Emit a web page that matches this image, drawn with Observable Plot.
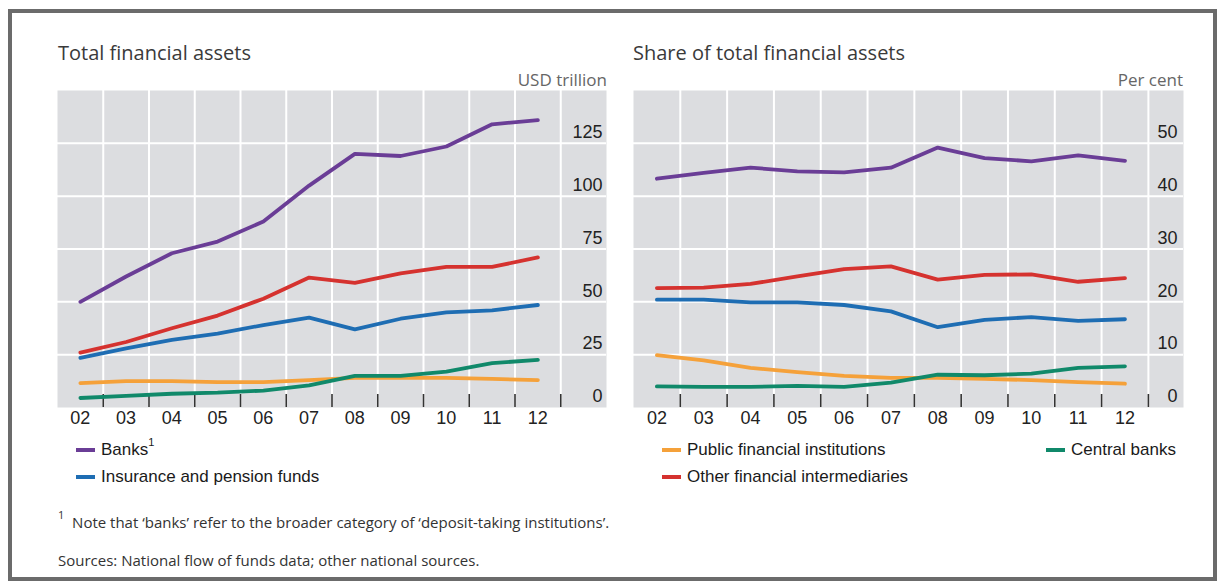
<!DOCTYPE html>
<html><head><meta charset="utf-8">
<script src="https://cdn.jsdelivr.net/npm/d3@7"></script>
<script src="https://cdn.jsdelivr.net/npm/@observablehq/plot@0.6"></script>
<style>
body{margin:0;background:#fff;width:1222px;height:584px;position:relative;overflow:hidden;font-family:"Open Sans",sans-serif;}
#frame{position:absolute;left:8px;top:9px;width:1201px;height:564px;border:4px solid #6b6b6b;}
.abs{position:absolute;white-space:nowrap;}
.title{font-size:20px;line-height:20px;color:#3a3a3a;}
.unit{font-size:17px;line-height:17px;color:#666;text-align:right;}
.leg{position:absolute;font-family:"Liberation Sans",Arial,sans-serif;font-size:17px;line-height:20px;height:20px;color:#1a1a1a;display:flex;align-items:center;white-space:nowrap;}
.sw{display:inline-block;width:19px;height:4px;margin-right:6px;}
.note{font-size:15px;line-height:18px;color:#333;}
.panel{position:absolute;top:90px;}
</style></head><body>
<div id="frame"></div>
<div class="abs title" style="left:58px;top:43px">Total financial assets</div>
<div class="abs title" style="left:633px;top:43px">Share of total financial assets</div>
<div class="abs unit" style="right:615px;top:71px">USD trillion</div>
<div class="abs unit" style="right:39px;top:71px">Per cent</div>
<div id="left" class="panel" style="left:57px"></div>
<div id="right" class="panel" style="left:633px"></div>
<div class="abs note" style="left:58px;top:513px"><sup style="font-size:11px;position:relative;top:-3px;line-height:0">1</sup>&nbsp; Note that ‘banks’ refer to the broader category of ‘deposit-taking institutions’.</div>
<div class="abs note" style="left:58px;top:551px">Sources: National flow of funds data; other national sources.</div>
<script>
const years = [2002, 2003, 2004, 2005, 2006, 2007, 2008, 2009, 2010, 2011, 2012];
const yearLabels = ["02", "03", "04", "05", "06", "07", "08", "09", "10", "11", "12"];
const gridYears = [2003, 2004, 2005, 2006, 2007, 2008, 2009, 2010, 2011, 2012, 2013];
const seriesNames = ["Public financial institutions", "Central banks", "Insurance and pension funds", "Other financial intermediaries", "Banks"];
const seriesColors = ["#f5a13a", "#10896a", "#1e6db3", "#d5322f", "#6a3d96"];

// Total financial assets, USD trillion
const pfiTotal = [11.5, 12.5, 12.5, 12, 12, 13, 14, 14, 14, 13.5, 13];
const cbTotal = [4.5, 5.5, 6.5, 7, 8, 10.5, 15, 15, 17, 21, 22.5];
const insTotal = [23.5, 28, 32, 35, 39, 42.5, 37, 42, 45, 46, 48.5];
const ofiTotal = [26, 31, 37.5, 43.5, 51.5, 61.5, 59, 63.5, 66.5, 66.5, 71];
const banksTotal = [50, 62, 73, 78.5, 88, 105, 120, 119, 123.5, 134, 136];
const leftTicks = [0, 25, 50, 75, 100, 125];

// Share of total financial assets, per cent
const pfiShare = [9.9, 8.9, 7.5, 6.7, 6.0, 5.6, 5.6, 5.4, 5.2, 4.8, 4.5];
const cbShare = [4.0, 3.9, 3.9, 4.1, 3.9, 4.7, 6.2, 6.1, 6.4, 7.5, 7.8];
const insShare = [20.4, 20.4, 19.9, 19.9, 19.4, 18.2, 15.2, 16.6, 17.1, 16.4, 16.7];
const ofiShare = [22.6, 22.7, 23.4, 24.8, 26.2, 26.7, 24.2, 25.1, 25.2, 23.8, 24.5];
const banksShare = [43.3, 44.4, 45.4, 44.7, 44.5, 45.4, 49.2, 47.2, 46.6, 47.7, 46.7];
const rightTicks = [0, 10, 20, 30, 40, 50];

function makePanel(values, xMax, yMax, yTicks, w, labelDx) {
  const rows = [];
  seriesNames.forEach((s, k) => values[k].forEach((v, i) => rows.push({year: years[i] + 0.5, value: v, series: s})));
  return Plot.plot({
    width: w, height: 352,
    marginLeft: 0, marginRight: 0, marginTop: 0, marginBottom: 35,
    x: {domain: [2002, xMax], axis: null},
    y: {domain: [0, yMax], axis: null},
    color: {domain: seriesNames, range: seriesColors},
    style: {background: "transparent", overflow: "visible"},
    marks: [
      Plot.frame({fill: "#dcdde0", stroke: "none"}),
      Plot.ruleY(yTicks.slice(1), {stroke: "#fff", strokeWidth: 2}),
      Plot.ruleX(gridYears, {stroke: "#fff", strokeWidth: 2}),
      Plot.ruleX(gridYears, {y1: 0, y2: 0, insetTop: -13, stroke: "#333", strokeWidth: 1.6}),
      Plot.text(yTicks, {y: d => d, text: d => String(d), frameAnchor: "right", textAnchor: "end", dx: labelDx, dy: -11, fontSize: 18, fill: "#222", fontFamily: "Liberation Sans, Arial, sans-serif"}),
      Plot.text(years, {x: d => d + 0.5, text: (d, i) => yearLabels[i], frameAnchor: "bottom", dy: 16, fontSize: 18, fill: "#222", fontFamily: "Liberation Sans, Arial, sans-serif"}),
      Plot.line(rows, {x: "year", y: "value", z: "series", stroke: "series", strokeWidth: 3.8, strokeLinejoin: "round"})
    ]
  });
}

document.getElementById("left").append(makePanel([pfiTotal, cbTotal, insTotal, ofiTotal, banksTotal], 2014, 150, leftTicks, 549, -4));
document.getElementById("right").append(makePanel([pfiShare, cbShare, insShare, ofiShare, banksShare], 2013.75, 60, rightTicks, 550, -6));

function legendItem(name, left, top, sup) {
  const el = document.createElement("div");
  el.className = "leg";
  el.style.left = left + "px";
  el.style.top = top + "px";
  const sw = document.createElement("span");
  sw.className = "sw";
  sw.style.background = seriesColors[seriesNames.indexOf(name)];
  el.append(sw);
  const t = document.createElement("span");
  t.innerHTML = name + (sup ? '<sup style="position:relative;top:-2px;font-size:11px;line-height:0">1</sup>' : "");
  el.append(t);
  document.body.append(el);
}
legendItem("Banks", 76, 440, true);
legendItem("Insurance and pension funds", 76, 467, false);
legendItem("Public financial institutions", 662, 440, false);
legendItem("Central banks", 1046, 440, false);
legendItem("Other financial intermediaries", 662, 467, false);
</script>
</body></html>
